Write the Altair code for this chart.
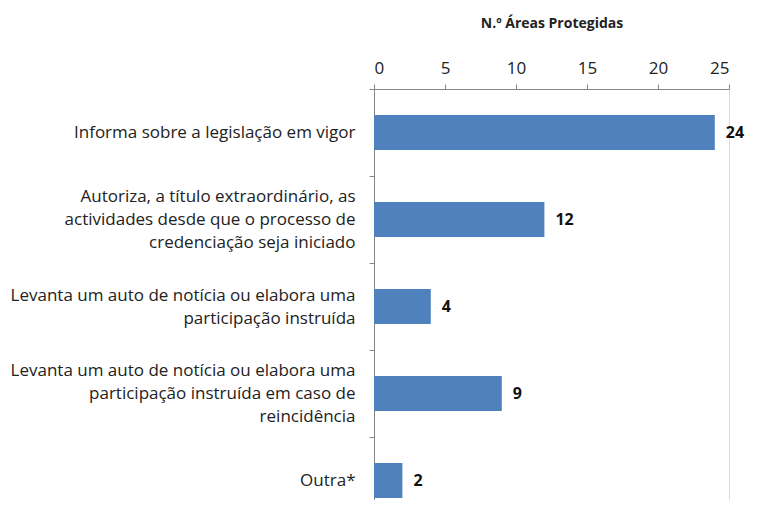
import altair as alt
import pandas as pd

categories = [
    "Informa sobre a legislação em vigor",
    "Autoriza, a título extraordinário, as|actividades desde que o processo de|credenciação seja iniciado",
    "Levanta um auto de notícia ou elabora uma|participação instruída",
    "Levanta um auto de notícia ou elabora uma|participação instruída em caso de|reincidência",
    "Outra*",
]
values = [24, 12, 4, 9, 2]
x_ticks = [0, 5, 10, 15, 20, 25]

df = pd.DataFrame({"cat": categories, "val": values})

FONT = "Open Sans"
AXC = "#868686"
TXT = "#222222"

n_lines = "length(split(datum.value, '|'))"

y = alt.Y(
    "cat:N",
    sort=None,
    title=None,
    scale=alt.Scale(paddingInner=0, paddingOuter=0),
    axis=alt.Axis(
        labelExpr="split(datum.label, '|')",
        labelFont=FONT,
        labelFontSize=17,
        labelColor=TXT,
        labelLineHeight=23,
        labelPadding=14,
        labelAlign="right",
        labelOffset={
            "condition": [
                {"test": n_lines + " == 3", "value": -23},
                {"test": n_lines + " == 2", "value": -11.5},
            ],
            "value": 0,
        },
        labelLimit=400,
        tickBand="extent",
        tickSize=5,
        tickColor=AXC,
        domainColor=AXC,
    ),
)

x = alt.X(
    "val:Q",
    scale=alt.Scale(domain=[0, 25], nice=False),
    axis=alt.Axis(
        orient="top",
        values=x_ticks,
        grid=False,
        title="N.º Áreas Protegidas",
        titleFont=FONT,
        titleFontSize=14,
        titleFontWeight="bold",
        titleColor=TXT,
        titlePadding=29,
        labelFont=FONT,
        labelFontSize=17,
        labelColor=TXT,
        labelPadding=7,
        tickSize=5,
        tickColor=AXC,
        domainColor=AXC,
    ),
)

bars = alt.Chart(df).mark_bar(
    color="#4F81BD", height=alt.RelativeBandSize(0.4)
).encode(x=x, y=y)
labels = alt.Chart(df).mark_text(
    align="left", baseline="middle", dx=11, font=FONT, fontSize=16,
    fontWeight="bold", color="#111111"
).encode(x="val:Q", y=alt.Y("cat:N", sort=None), text="val:Q")

chart = (
    alt.layer(bars, labels)
    .properties(
        width=355,
        height=435,
        autosize=alt.AutoSizeParams(type="none"),
        padding={"left": 366, "top": 81, "right": 22, "bottom": -24},
    )
    .configure_view(stroke=None)
    .configure(background="white")
)

chart.save("out.html", embed_options={"renderer": "svg", "actions": False})
